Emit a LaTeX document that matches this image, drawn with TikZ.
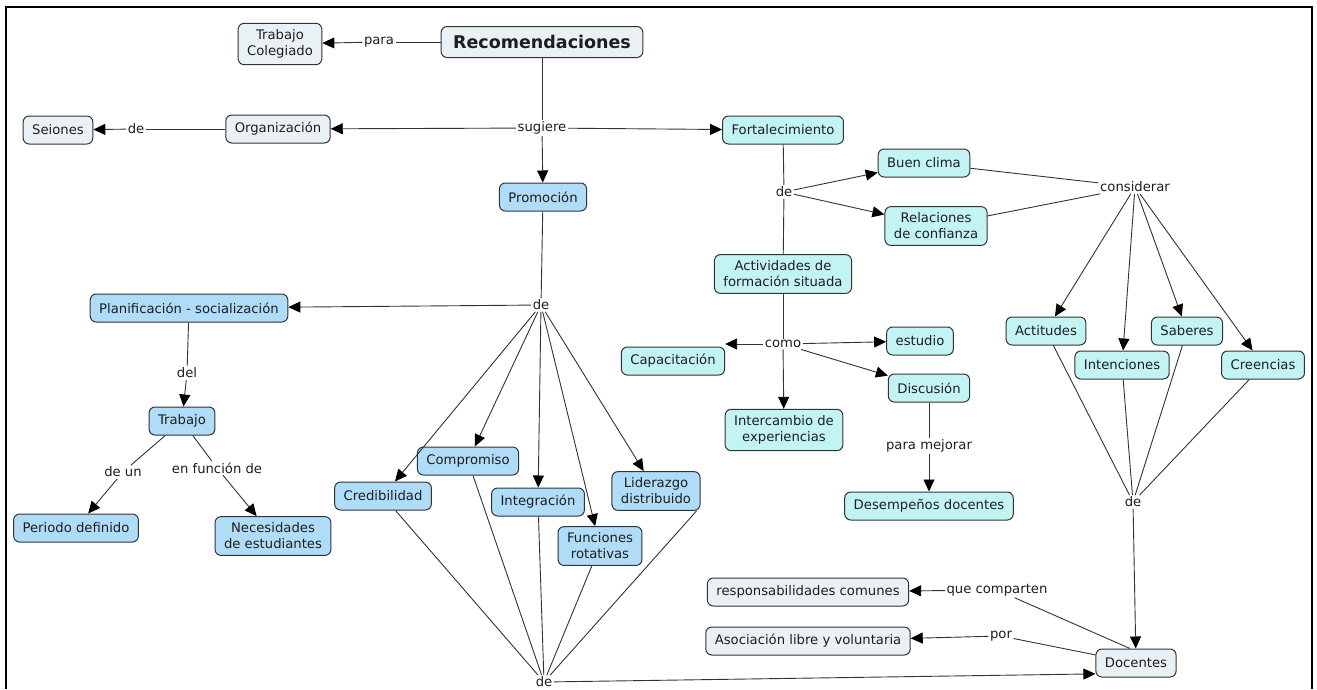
\documentclass[tikz,border=0pt]{standalone}
\usepackage{fontspec}
\setmainfont{DejaVu Sans}
\usetikzlibrary{arrows.meta}
\definecolor{palebox}{HTML}{E9F1F5}
\definecolor{bluebox}{HTML}{AEDCF9}
\definecolor{cyanbox}{HTML}{C3F4F4}
\definecolor{edgegray}{HTML}{333333}
\definecolor{linegray}{HTML}{333333}
\definecolor{ink}{HTML}{1E1E1E}

\begin{document}
\begin{tikzpicture}[x=1pt,y=-1pt,
  concept/.style={draw=edgegray, line width=1pt, rounded corners=6pt, text=ink,
    font=\fontsize{13.2}{16}\selectfont, align=center, inner xsep=9pt, inner ysep=6.3pt,
    minimum height=28pt},
  palec/.style={concept, fill=palebox},
  bluec/.style={concept, fill=bluebox},
  cyanc/.style={concept, fill=cyanbox},
  link/.style={fill=white, inner sep=1.5pt, text=ink, font=\fontsize{13.2}{16}\selectfont},
  conn/.style={draw=linegray, line width=0.9pt},
  arr/.style={conn, -{Triangle[length=12pt,width=11pt,color=black,fill=black]}},
]
\useasboundingbox (0,0) rectangle (1317,689);
\fill[white] (0,0) rectangle (1317,689);
% frame
\draw[line width=2pt, black] (6,689) -- (6,7) -- (1312,7) -- (1312,689);

% top concepts
\node[palec, font=\bfseries\fontsize{17.5}{20}\selectfont, minimum height=31pt, inner xsep=12pt] (rec) at (542,42) {Recomendaciones};
\node[palec] (tcol) at (280,44) {Trabajo\\Colegiado};
\node[link] (para) at (379,42) {para};
\node[link] (sug) at (542,128) {sugiere};
\node[palec] (org) at (278,129) {Organización};
\node[link] (deorg) at (136,129) {de};
\node[palec] (seio) at (58,130) {Seiones};
\node[cyanc] (fort) at (783,130) {Fortalecimiento};
\node[bluec] (prom) at (543,197) {Promoción};

% Fortalecimiento branch
\node[link] (defort) at (784,192) {de};
\node[cyanc] (clima) at (924,163) {Buen clima};
\node[cyanc] (relc) at (936,226) {Relaciones\\de confianza};
\node[link] (cons) at (1135,187) {considerar};
\node[cyanc] (activ) at (783,274) {Actividades de\\formación situada};
\node[link] (como) at (783,344) {como};
\node[cyanc] (capa) at (673,361) {Capacitación};
\node[cyanc] (estu) at (920,341) {estudio};
\node[cyanc] (disc) at (929,388) {Discusión};
\node[cyanc] (inter) at (784,430) {Intercambio de\\experiencias};
\node[link] (pmej) at (929,446) {para mejorar};
\node[cyanc] (desem) at (929,506) {Desempeños docentes};
\node[cyanc] (actit) at (1046,331) {Actitudes};
\node[cyanc] (inten) at (1122,365) {Intenciones};
\node[cyanc] (sabe) at (1187,331) {Saberes};
\node[cyanc] (cree) at (1263,365) {Creencias};
\node[link] (deright) at (1133,502) {de};

% Docentes
\node[palec] (doc) at (1136,663) {Docentes};
\node[palec] (resp) at (808,592) {responsabilidades comunes};
\node[link] (qcomp) at (997,590) {que comparten};
\node[palec] (asoc) at (808,641) {Asociación libre y voluntaria};
\node[link] (por) at (1001,636) {por};

% Promoción branch
\node[bluec] (plan) at (189,308) {Planificación - socialización};
\node[link] (deprom) at (541,305) {de};
\node[link] (del) at (187,373) {del};
\node[bluec] (trab) at (182,421) {Trabajo};
\node[link] (deun) at (123,472) {de un};
\node[link] (enfun) at (217,468) {en función de};
\node[bluec] (peri) at (76,528) {Periodo definido};
\node[bluec] (nece) at (273,536) {Necesidades\\de estudiantes};
\node[bluec] (cred) at (383,496) {Credibilidad};
\node[bluec] (comp) at (468,461) {Compromiso};
\node[bluec] (integ) at (538,502) {Integración};
\node[bluec] (func) at (600,546) {Funciones\\rotativas};
\node[bluec] (lider) at (656,491) {Liderazgo\\distribuido};
\node[link] (debot) at (544,682) {de};

% connectors: top
\draw[conn] (rec) -- (para);
\draw[arr] (para) -- (tcol);
\draw[conn] (rec) -- (sug);
\draw[arr] (sug) -- (org);
\draw[arr] (sug) -- (fort);
\draw[arr] (sug) -- (prom);
\draw[conn] (org) -- (deorg);
\draw[arr] (deorg) -- (seio);

% connectors: Promoción
\draw[conn] (prom) -- (deprom);
\draw[arr] (deprom) -- (plan);
\draw[arr] (deprom) -- (cred);
\draw[arr] (deprom) -- (comp);
\draw[arr] (deprom) -- (integ);
\draw[arr] (deprom) -- (func);
\draw[arr] (deprom) -- (lider);
\draw[conn] (plan) -- (del);
\draw[arr] (del) -- (trab);
\draw[conn] (trab) -- (deun);
\draw[arr] (deun) -- (peri);
\draw[conn] (trab) -- (enfun);
\draw[arr] (enfun) -- (nece);
\draw[conn] (cred) -- (debot);
\draw[conn] (comp) -- (debot);
\draw[conn] (integ) -- (debot);
\draw[conn] (func) -- (debot);
\draw[conn] ([xshift=-4pt]lider.south east) -- (debot);
\draw[arr] (debot) -- (doc.195);

% connectors: Fortalecimiento
\draw[conn] (fort) -- (defort);
\draw[conn] (defort) -- (activ);
\draw[arr] (defort) -- (clima);
\draw[arr] (defort) -- (relc);
\draw[conn] (clima) -- (cons);
\draw[conn] (relc) -- (cons);
\draw[arr] (cons) -- (actit);
\draw[arr] (cons) -- (inten);
\draw[arr] (cons) -- (sabe);
\draw[arr] (cons) -- (cree);
\draw[conn] (actit) -- (deright);
\draw[conn] (inten) -- (deright);
\draw[conn] (sabe) -- (deright);
\draw[conn] (cree) -- (deright);
\draw[arr] (deright) -- (doc);
\draw[conn] (activ) -- (como);
\draw[arr] (como) -- (como -| capa.east);
\draw[arr] (como) -- (estu);
\draw[arr] (como) -- (disc);
\draw[arr] (como) -- (inter);
\draw[conn] (disc) -- (pmej);
\draw[arr] (pmej) -- (desem);

% connectors: Docentes
\draw[conn] ([xshift=-6pt]doc.north) -- (qcomp);
\draw[arr] (qcomp) -- (resp);
\draw[conn] (doc) -- (por);
\draw[arr] (por) -- (asoc);
\end{tikzpicture}
\end{document}
